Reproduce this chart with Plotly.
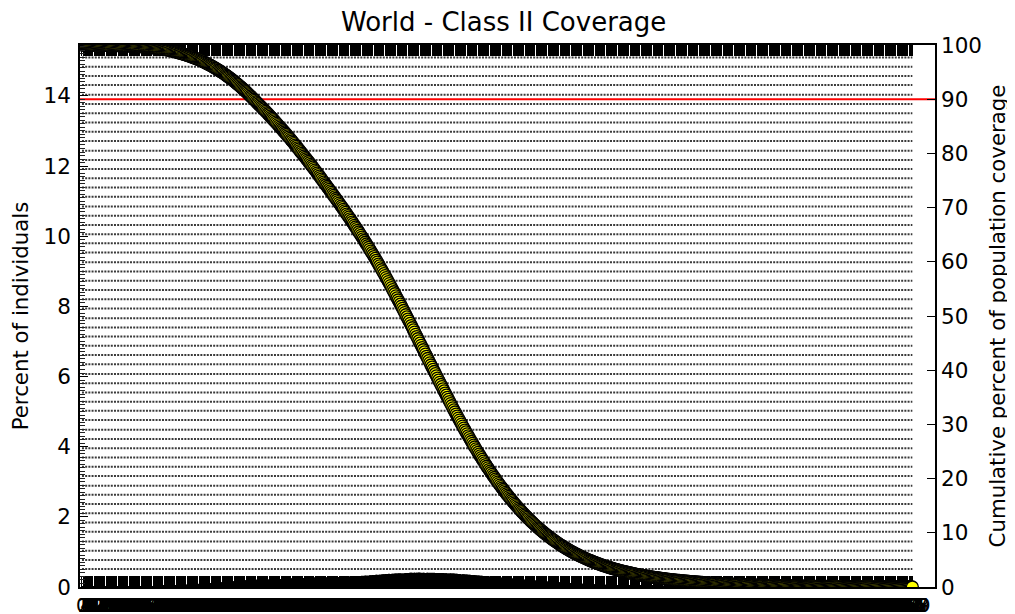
import numpy as np
import plotly.graph_objects as go

TITLE = "World - Class II Coverage"
Y1_TITLE = "Percent of individuals"
Y2_TITLE = "Cumulative percent of population coverage"
THRESHOLD = 90  # percent coverage reference line

# Percent of individuals for each number of epitope hits (0 .. 759)
bars_pct = [
    0.001,0.002,0.001,0.003,0.002,0.002,0.003,0.002,0.002,0.003,0.002,0.003,0.003,0.002,0.003,0.003,0.002,0.004,0.003,0.004,
    0.003,0.004,0.004,0.005,0.003,0.005,0.004,0.005,0.006,0.004,0.005,0.006,0.005,0.006,0.005,0.007,0.006,0.005,0.007,0.006,
    0.008,0.009,0.010,0.008,0.011,0.010,0.012,0.011,0.013,0.012,0.014,0.012,0.013,0.015,0.014,0.013,0.016,0.015,0.017,0.016,
    0.019,0.021,0.020,0.024,0.023,0.026,0.025,0.028,0.027,0.030,0.029,0.032,0.031,0.034,0.033,0.036,0.035,0.038,0.037,0.041,
    0.048,0.050,0.049,0.053,0.052,0.055,0.054,0.058,0.059,0.056,0.061,0.060,0.064,0.062,0.066,0.065,0.068,0.067,0.071,0.073,
    0.074,0.078,0.077,0.082,0.084,0.083,0.088,0.090,0.089,0.094,0.096,0.095,0.100,0.102,0.101,0.106,0.108,0.107,0.113,0.116,
    0.118,0.121,0.120,0.126,0.128,0.127,0.133,0.136,0.134,0.140,0.143,0.145,0.144,0.150,0.152,0.151,0.157,0.160,0.162,0.167,
    0.168,0.170,0.169,0.175,0.178,0.176,0.182,0.185,0.184,0.190,0.192,0.194,0.193,0.199,0.202,0.200,0.206,0.209,0.211,0.215,
    0.196,0.199,0.198,0.202,0.205,0.204,0.208,0.210,0.209,0.215,0.217,0.216,0.220,0.222,0.221,0.226,0.228,0.227,0.231,0.234,
    0.223,0.226,0.225,0.229,0.231,0.230,0.235,0.237,0.236,0.242,0.244,0.243,0.248,0.250,0.249,0.253,0.255,0.254,0.258,0.261,
    0.247,0.250,0.249,0.253,0.255,0.254,0.259,0.261,0.260,0.265,0.267,0.266,0.271,0.273,0.272,0.276,0.278,0.277,0.281,0.284,
    0.270,0.272,0.271,0.274,0.275,0.274,0.277,0.278,0.277,0.280,0.281,0.280,0.283,0.284,0.283,0.286,0.287,0.286,0.289,0.291,
    0.292,0.294,0.293,0.297,0.298,0.297,0.301,0.303,0.302,0.306,0.308,0.307,0.311,0.313,0.312,0.316,0.318,0.317,0.321,0.324,
    0.325,0.328,0.330,0.333,0.335,0.337,0.340,0.342,0.344,0.347,0.349,0.351,0.354,0.356,0.358,0.361,0.363,0.365,0.368,0.370,
    0.372,0.375,0.374,0.377,0.379,0.378,0.382,0.384,0.383,0.387,0.389,0.388,0.391,0.393,0.392,0.395,0.397,0.396,0.399,0.401,
    0.404,0.408,0.405,0.407,0.410,0.406,0.409,0.403,0.411,0.405,0.408,0.402,0.406,0.409,0.401,0.405,0.403,0.400,0.404,0.399,
    0.403,0.401,0.404,0.400,0.402,0.398,0.401,0.397,0.399,0.395,0.397,0.393,0.395,0.391,0.393,0.389,0.390,0.386,0.388,0.385,
    0.382,0.380,0.378,0.376,0.374,0.371,0.369,0.367,0.364,0.362,0.359,0.357,0.354,0.352,0.349,0.347,0.344,0.342,0.339,0.336,
    0.334,0.331,0.329,0.326,0.323,0.321,0.318,0.315,0.312,0.310,0.307,0.304,0.301,0.298,0.295,0.293,0.290,0.287,0.284,0.281,
    0.279,0.276,0.273,0.270,0.267,0.264,0.261,0.259,0.256,0.253,0.250,0.247,0.244,0.242,0.239,0.236,0.233,0.230,0.228,0.225,
    0.223,0.220,0.217,0.215,0.212,0.209,0.206,0.204,0.201,0.198,0.196,0.193,0.190,0.188,0.185,0.183,0.180,0.178,0.175,0.173,
    0.171,0.168,0.166,0.163,0.161,0.158,0.156,0.154,0.151,0.149,0.147,0.145,0.142,0.140,0.138,0.136,0.134,0.132,0.130,0.128,
    0.126,0.124,0.122,0.120,0.118,0.116,0.114,0.112,0.110,0.109,0.107,0.105,0.103,0.102,0.100,0.098,0.097,0.095,0.094,0.092,
    0.091,0.089,0.088,0.086,0.085,0.083,0.082,0.081,0.079,0.078,0.077,0.075,0.074,0.073,0.072,0.070,0.069,0.068,0.067,0.066,
    0.065,0.064,0.063,0.062,0.060,0.059,0.058,0.057,0.056,0.055,0.054,0.053,0.052,0.051,0.050,0.049,0.048,0.047,0.047,0.046,
    0.045,0.044,0.044,0.043,0.042,0.041,0.041,0.040,0.039,0.039,0.038,0.037,0.037,0.036,0.035,0.035,0.034,0.034,0.033,0.032,
    0.032,0.031,0.031,0.030,0.030,0.029,0.029,0.028,0.028,0.027,0.027,0.027,0.026,0.026,0.025,0.025,0.024,0.024,0.024,0.023,
    0.023,0.022,0.022,0.022,0.021,0.021,0.021,0.020,0.020,0.020,0.019,0.019,0.019,0.018,0.018,0.018,0.018,0.017,0.017,0.017,
    0.016,0.016,0.016,0.015,0.015,0.015,0.015,0.014,0.014,0.014,0.014,0.013,0.013,0.013,0.013,0.013,0.012,0.012,0.012,0.012,
    0.012,0.011,0.011,0.011,0.011,0.010,0.010,0.010,0.010,0.010,0.010,0.009,0.009,0.009,0.009,0.009,0.009,0.008,0.008,0.008,
    0.008,0.008,0.008,0.008,0.008,0.007,0.007,0.007,0.007,0.007,0.007,0.007,0.007,0.007,0.007,0.006,0.006,0.006,0.006,0.006,
    0.006,0.006,0.006,0.006,0.006,0.006,0.005,0.005,0.005,0.005,0.005,0.005,0.005,0.005,0.005,0.005,0.005,0.005,0.004,0.004,
    0.004,0.004,0.004,0.004,0.004,0.004,0.004,0.004,0.004,0.004,0.004,0.004,0.004,0.004,0.004,0.003,0.003,0.003,0.003,0.003,
    0.003,0.003,0.003,0.003,0.003,0.003,0.003,0.003,0.002,0.002,0.002,0.002,0.002,0.002,0.002,0.002,0.002,0.002,0.002,0.002,
    0.002,0.002,0.002,0.002,0.002,0.002,0.002,0.002,0.002,0.002,0.002,0.002,0.002,0.002,0.002,0.002,0.002,0.002,0.002,0.002,
    0.002,0.002,0.002,0.002,0.002,0.001,0.002,0.001,0.002,0.001,0.002,0.001,0.001,0.002,0.001,0.001,0.002,0.001,0.001,0.001,
    0.001,0.001,0.001,0.001,0.001,0.001,0.001,0.001,0.001,0.001,0.001,0.001,0.001,0.001,0.001,0.001,0.001,0.001,0.001,0.001,
    0.001,0.001,0.000,0.001,0.000,0.001,0.001,0.000,0.001,0.000,0.000,0.001,0.000,0.001,0.000,0.000,0.001,0.000,0.000,0.001,
]
hits = list(range(len(bars_pct)))

# Cumulative percent of population covered with at least k hits
b = np.array(bars_pct)
cum_pct = (np.cumsum(b[::-1])[::-1] / b.sum() * 100.0).tolist()

# Dotted horizontal reference rows (levels on the cumulative axis)
row_levels = [3.3, 5.0, 6.7, 8.4, 10.2, 11.9, 13.6, 15.3, 17.0, 18.7, 20.5, 22.2, 23.9, 25.6,
              27.3, 29.0, 30.8, 32.5, 34.2, 35.9, 37.6, 39.3, 41.1, 42.8, 44.5, 46.2, 47.9,
              49.6, 51.4, 53.1, 54.8, 56.5, 58.2, 59.9, 61.7, 63.4, 65.1, 66.8, 68.5, 70.2,
              72.0, 73.7, 75.4, 77.1, 78.8, 80.5, 82.3, 84.0, 85.7, 87.4, 89.1, 90.8, 92.6,
              94.3, 96.0, 97.7]

X_RANGE = [-1.8, 779.7]
Y1_RANGE = [0, 15.45]
Y2_RANGE = [0, 100]
FONT = "DejaVu Sans"
TICK_SIZE = 21.5
XTICK_SIZE = 19
LABEL_SIZE = 21.3

rx, ry = [], []
for lv in row_levels:
    rx += [hits[0], hits[-1], None]
    ry += [lv, lv, None]

fig = go.Figure()
fig.add_trace(go.Bar(x=hits, y=bars_pct, marker=dict(color="black", line=dict(width=0)),
                     width=0.8, yaxis="y", showlegend=False, hoverinfo="skip"))
fig.add_trace(go.Scatter(x=rx, y=ry, mode="lines", yaxis="y2", showlegend=False,
                         line=dict(color="#3a3a3a", width=2, dash="2px,1.2px"), hoverinfo="skip"))
fig.add_trace(go.Scatter(x=X_RANGE, y=[THRESHOLD, THRESHOLD], mode="lines", yaxis="y2",
                         showlegend=False, line=dict(color="red", width=2), hoverinfo="skip"))
fig.add_trace(go.Scatter(x=hits, y=cum_pct, mode="markers", yaxis="y2", showlegend=False,
                         marker=dict(size=12, color="#ffff00", line=dict(color="black", width=1.3))))

W, H = 1007, 606
fig.update_layout(
    width=W, height=H,
    margin=dict(l=72, r=80, t=37, b=27),
    paper_bgcolor="white", plot_bgcolor="white",
    font=dict(family=FONT, size=TICK_SIZE, color="black"),
    title=dict(text=TITLE, x=(507 - 8) / W, xanchor="center", y=1 - 14 / H, yanchor="middle",
               yref="container", xref="paper", font=dict(size=26, family=FONT, color="black")),
    bargap=0.2,
    xaxis=dict(range=X_RANGE, tickmode="array", tickvals=hits, ticktext=[str(h) for h in hits],
               tickangle=0, automargin=False,
               ticks="inside", ticklen=11, tickwidth=1.4, tickcolor="black",
               showline=True, linecolor="black", linewidth=1.5, mirror="ticks",
               showgrid=False, zeroline=False, layer="below traces",
               tickfont=dict(size=XTICK_SIZE, family=FONT, color="black")),
    yaxis=dict(range=Y1_RANGE, tickmode="linear", tick0=0, dtick=2, automargin=False,
               ticks="inside", ticklen=8, tickcolor="black", ticklabelstandoff=3,
               minor=dict(tickmode="linear", tick0=0, dtick=0.1, ticks="inside", ticklen=5,
                          tickcolor="#222"),
               showline=True, linecolor="black", linewidth=1.5, mirror=True,
               showgrid=False, zeroline=False,
               title=dict(text=Y1_TITLE, font=dict(size=LABEL_SIZE, family=FONT), standoff=14),
               tickfont=dict(size=TICK_SIZE, family=FONT, color="black")),
    yaxis2=dict(range=Y2_RANGE, overlaying="y", side="right", tickmode="linear", tick0=0, dtick=10,
                automargin=False, ticklabelstandoff=5,
                ticks="inside", ticklen=8, tickcolor="black",
                showline=False, showgrid=False, zeroline=False,
                title=dict(text=Y2_TITLE, font=dict(size=LABEL_SIZE, family=FONT), standoff=9),
                tickfont=dict(size=TICK_SIZE, family=FONT, color="black")),
)

fig.write_html("out.html")
